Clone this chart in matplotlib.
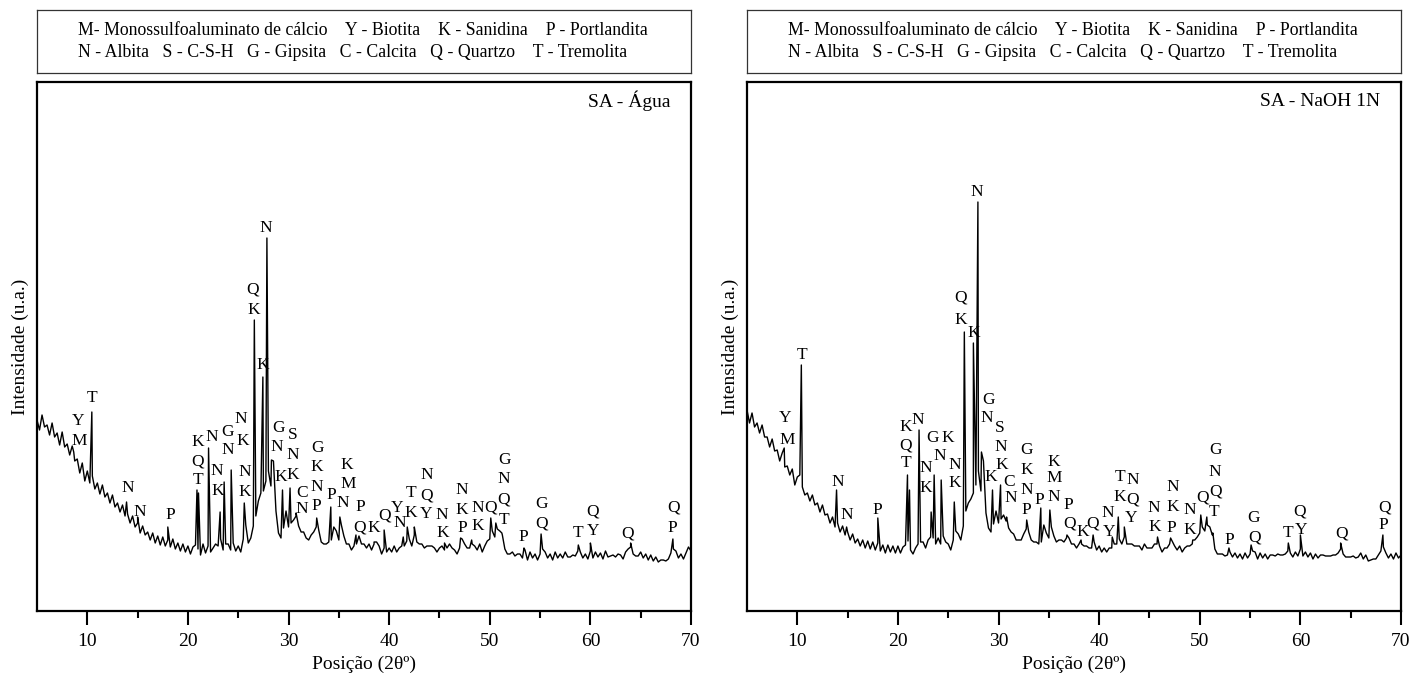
import numpy as np
import matplotlib
matplotlib.use("Agg")
import matplotlib.pyplot as plt

plt.rcParams["font.family"] = ["Liberation Serif", "DejaVu Serif"]

# sample positions of the traced baseline (2theta, deg)
THETA_GRID = np.arange(5, 70.001, 0.25)

# SA - Agua : traced background, one row per degree (x.00, x.25, x.50, x.75)
AGUA_BASE = [
    191, 181, 196, 184,
    186, 176, 188, 174,
    178, 166, 179, 164,
    167, 156, 165, 150,
    152, 138, 148, 130,
    140, 128, 135, 122,
    128, 117, 126, 114,
    118, 108, 116, 104,
    108, 99, 106, 95,
    97, 88, 95, 84,
    88, 78, 85, 76,
    79, 71, 78, 68,
    75, 66, 74, 65,
    71, 64, 72, 62,
    68, 60, 67, 59,
    65, 57, 64, 66,
    62, 56, 67, 58,
    65, 59, 63, 67,
    65, 72, 61, 67,
    67, 61, 68, 60,
    65, 59, 72, 86,
    68, 73, 85, 95,
    110, 118, 120, 130,
    140, 125, 150, 100,
    78, 73, 83, 100,
    84, 88, 91, 95,
    85, 79, 79, 73,
    71, 76, 79, 84,
    81, 69, 67, 67,
    69, 71, 84, 80,
    71, 86, 75, 67,
    67, 61, 65, 67,
    75, 67, 67, 63,
    67, 61, 67, 69,
    65, 57, 63, 59,
    63, 59, 65, 59,
    63, 65, 65, 70,
    72, 65, 76, 69,
    67, 67, 63, 65,
    65, 65, 63, 59,
    63, 65, 61, 63,
    67, 63, 61, 57,
    63, 72, 67, 63,
    63, 67, 65, 61,
    67, 59, 65, 70,
    72, 80, 74, 82,
    80, 76, 62, 57,
    57, 59, 55, 57,
    57, 53, 61, 51,
    59, 53, 57, 51,
    57, 62, 59, 53,
    57, 51, 59, 53,
    57, 53, 59, 54,
    54, 56, 55, 60,
    59, 53, 57, 52,
    60, 53, 59, 54,
    58, 52, 60, 54,
    55, 56, 54, 57,
    56, 52, 59, 62,
    64, 57, 55, 55,
    59, 53, 57, 51,
    56, 50, 54, 49,
    51, 51, 50, 52,
    58, 62, 60, 53,
    57, 52, 58, 64,
    60,
]

AGUA_PEAK_POS = [8.65, 10.45, 13.9, 15.0, 18.0, 20.9, 21.05, 22.05, 23.2,
                 23.6, 24.3, 25.6, 26.6, 27.45, 27.85, 28.3, 29.4, 30.15,
                 30.75, 32.8, 34.2, 35.1, 36.7, 38.5, 39.5, 41.4, 41.8, 42.5,
                 45.5, 47.1, 48.2, 50.1, 50.6, 51.2, 53.4, 55.1, 58.8, 60.0,
                 64.0, 68.2]
AGUA_PEAK_INT = [159, 199, 109, 94, 84, 121, 118, 163, 99,
                 129, 141, 108, 291, 234, 373, 151, 121, 123,
                 98, 93, 104, 94, 76, 69, 81, 74, 84, 84,
                 68, 73, 71, 93, 88, 78, 63, 77, 66, 68,
                 68, 72]

# SA - NaOH 1N : traced background
NAOH_BASE = [
    201, 188, 198, 184,
    188, 178, 186, 174,
    174, 164, 172, 160,
    161, 150, 158, 144,
    145, 136, 142, 126,
    134, 136, 124, 116,
    118, 110, 116, 106,
    108, 99, 106, 96,
    97, 88, 94, 84,
    88, 79, 85, 76,
    79, 71, 77, 68,
    72, 65, 71, 63,
    70, 62, 69, 61,
    68, 60, 66, 58,
    66, 59, 65, 58,
    65, 58, 64, 66,
    70, 61, 57, 63,
    67, 69, 69, 63,
    71, 74, 73, 67,
    73, 67, 75, 69,
    67, 61, 71, 80,
    77, 71, 85, 100,
    108, 112, 118, 126,
    140, 120, 150, 98,
    83, 79, 87, 100,
    88, 92, 96, 90,
    83, 79, 77, 71,
    71, 71, 77, 82,
    79, 71, 69, 69,
    67, 69, 86, 78,
    73, 84, 75, 69,
    71, 71, 69, 73,
    73, 67, 67, 63,
    67, 67, 65, 65,
    63, 63, 69, 61,
    65, 59, 63, 59,
    63, 63, 67, 67,
    72, 67, 74, 67,
    67, 67, 65, 65,
    65, 61, 67, 63,
    63, 63, 67, 67,
    65, 59, 63, 63,
    67, 70, 65, 61,
    65, 59, 63, 65,
    65, 67, 71, 74,
    78, 84, 80, 86,
    84, 76, 62, 57,
    57, 57, 55, 56,
    59, 54, 58, 53,
    57, 52, 58, 53,
    57, 60, 59, 52,
    58, 53, 57, 52,
    56, 56, 55, 57,
    56, 56, 57, 60,
    58, 54, 59, 55,
    62, 55, 59, 54,
    58, 52, 57, 53,
    56, 56, 55, 55,
    55, 56, 56, 58,
    62, 57, 54, 54,
    54, 55, 53, 54,
    58, 52, 56, 50,
    51, 52, 52, 56,
    60, 64, 58, 53,
    57, 52, 58, 53,
    56,
]

NAOH_PEAK_POS = [8.7, 10.4, 13.9, 14.9, 18.0, 20.95, 21.15, 22.1, 23.3,
                 23.6, 24.3, 25.6, 26.6, 27.5, 27.95, 28.3, 29.4, 30.2,
                 30.8, 32.8, 34.2, 35.1, 36.8, 38.2, 39.4, 41.3, 41.9, 42.5,
                 45.8, 47.1, 49.3, 50.1, 50.7, 51.3, 52.9, 55.1, 58.8, 60.0,
                 64.0, 68.2]
NAOH_PEAK_INT = [163, 246, 121, 84, 93, 136, 121, 181, 99,
                 136, 131, 109, 279, 268, 409, 159, 121, 126,
                 94, 91, 103, 101, 76, 71, 76, 74, 94, 84,
                 74, 73, 71, 96, 94, 78, 63, 66, 68, 76,
                 68, 76]

# phase letters: 2theta, height, letter
AGUA_LBL_X = [9.08, 9.17, 10.47, 14.05, 15.24, 18.22, 21.0, 21.0, 21.0, 22.4,
              22.9, 23.0, 23.9, 24.0, 25.28, 25.48, 25.68, 25.68, 26.47, 26.57,
              27.76, 27.46, 28.96, 28.86, 29.25, 30.45, 30.45, 30.45, 31.34, 31.34,
              32.83, 32.83, 32.83, 32.73, 34.22, 35.81, 35.91, 35.42, 37.11, 37.01,
              38.5, 39.59, 40.79, 41.08, 42.18, 42.18, 43.77, 43.67, 43.67, 45.26,
              45.36, 47.25, 47.25, 47.25, 48.84, 48.84, 50.03, 51.42, 51.42, 51.42,
              51.42, 53.31, 55.1, 55.1, 58.78, 60.17, 60.27, 63.65, 68.22, 68.12]
AGUA_LBL_Y = [190, 170, 213, 123, 99, 96, 169, 149, 131, 174,
              140, 120, 179, 161, 192, 170, 139, 119, 322, 301,
              383, 246, 183, 164, 134, 176, 156, 136, 118, 102,
              163, 144, 124, 105, 116, 146, 127, 108, 104, 84,
              83, 96, 103, 88, 118, 98, 136, 116, 97, 96,
              78, 121, 101, 83, 103, 85, 104, 151, 132, 111,
              91, 74, 107, 88, 78, 99, 80, 78, 103, 83]
AGUA_LBL = list("YMTNNPKQTN" "NKGNNKNKQK" "NKGNKSNKCN" "GKNPPKMNPQ"
                "KQYNTKNQYN" "KNKPNKQGNQ" "TPGQTQYQQP")

NAOH_LBL_X = [8.78, 8.98, 10.47, 14.05, 14.94, 17.92, 20.8, 22.0, 20.8, 20.8,
              23.39, 24.98, 22.8, 22.8, 24.19, 25.68, 25.68, 26.27, 26.27, 27.86,
              27.56, 28.96, 28.86, 30.15, 30.25, 30.35, 29.25, 31.04, 31.24, 32.73,
              32.83, 32.83, 32.73, 34.03, 35.52, 35.52, 35.52, 36.91, 37.01, 38.4,
              39.39, 40.88, 40.98, 42.08, 43.37, 42.08, 43.37, 43.17, 45.46, 45.56,
              47.35, 47.35, 47.15, 49.04, 49.04, 50.23, 51.52, 51.52, 51.52, 51.42,
              52.91, 55.3, 55.4, 58.78, 59.87, 60.07, 64.05, 68.32, 68.22]
NAOH_LBL_Y = [193, 171, 256, 129, 96, 101, 184, 191, 166, 148,
              173, 173, 143, 123, 155, 146, 128, 313, 291, 419,
              278, 211, 193, 183, 164, 146, 134, 129, 113, 161,
              141, 121, 101, 111, 149, 133, 114, 106, 88, 79,
              88, 98, 79, 134, 131, 114, 111, 93, 103, 84,
              124, 104, 83, 101, 81, 114, 161, 139, 119, 99,
              71, 93, 74, 78, 99, 81, 78, 104, 86]
NAOH_LBL = list("YMTNNPKNQT" "GKNKNNKQKN" "KGNSNKKCNG" "KNPPKMNPQK"
                "QNYTNKQYNK" "NKPNKQGNQT" "PGQTQYQQP")

LEGEND_LINE1 = ("M- Monossulfoaluminato de cálcio    Y - Biotita    "
                "K - Sanidina    P - Portlandita")
LEGEND_LINE2 = ("N - Albita   S - C-S-H   G - Gipsita   C - Calcita   "
                "Q - Quartzo    T - Tremolita")

PANELS = [
    ("SA - Água", AGUA_BASE, AGUA_PEAK_POS, AGUA_PEAK_INT,
     AGUA_LBL_X, AGUA_LBL_Y, AGUA_LBL),
    ("SA - NaOH 1N", NAOH_BASE, NAOH_PEAK_POS, NAOH_PEAK_INT,
     NAOH_LBL_X, NAOH_LBL_Y, NAOH_LBL),
]

W, H = 1423, 682


def px_box(x0, y0, x1, y1):
    return [x0 / W, 1 - y1 / H, (x1 - x0) / W, (y1 - y0) / H]


def main():
    fig = plt.figure(figsize=(W / 100, H / 100), dpi=100)

    lefts = [37, 747]
    for left, (title, base, ppos, pint, lx, ly, lt) in zip(lefts, PANELS):
        # legend box
        lax = fig.add_axes(px_box(left, 10, left + 654, 73))
        lax.set_xticks([])
        lax.set_yticks([])
        for sp in lax.spines.values():
            sp.set_linewidth(0.9)
            sp.set_color("#333333")
        lax.text(0.063, 0.68, LEGEND_LINE1, transform=lax.transAxes,
                 fontsize=12.8, va="center", ha="left")
        lax.text(0.063, 0.32, LEGEND_LINE2, transform=lax.transAxes,
                 fontsize=12.8, va="center", ha="left")

        ax = fig.add_axes(px_box(left, 82, left + 654, 611))
        x = np.concatenate([THETA_GRID, np.array(ppos, dtype=float)])
        y = np.concatenate([np.array(base, dtype=float),
                            np.array(pint, dtype=float)])
        order = np.argsort(x, kind="stable")
        ax.plot(x[order], y[order], color="black", linewidth=1.0)

        for tx, ty, s in zip(lx, ly, lt):
            ax.text(tx, ty, s, fontsize=12.5, ha="center", va="center")

        ax.text(0.968, 0.964, title, transform=ax.transAxes, fontsize=14,
                ha="right", va="center")

        ax.set_xlim(5, 70)
        ax.set_ylim(0, 529)
        ax.set_xticks(range(10, 71, 10))
        ax.set_xticks(range(15, 70, 10), minor=True)
        ax.set_yticks([])
        ax.tick_params(axis="x", which="major", direction="out", length=10,
                       width=1.5, labelsize=14, pad=6)
        ax.tick_params(axis="x", which="minor", direction="out", length=5,
                       width=1.5)
        for sp in ax.spines.values():
            sp.set_linewidth(1.6)
        ax.set_xlabel("Posição (2θº)", fontsize=14, labelpad=4)
        ax.set_ylabel("Intensidade (u.a.)", fontsize=14, labelpad=6)

    fig.savefig("out.png", dpi=100)
    plt.close(fig)


if __name__ == "__main__":
    main()
